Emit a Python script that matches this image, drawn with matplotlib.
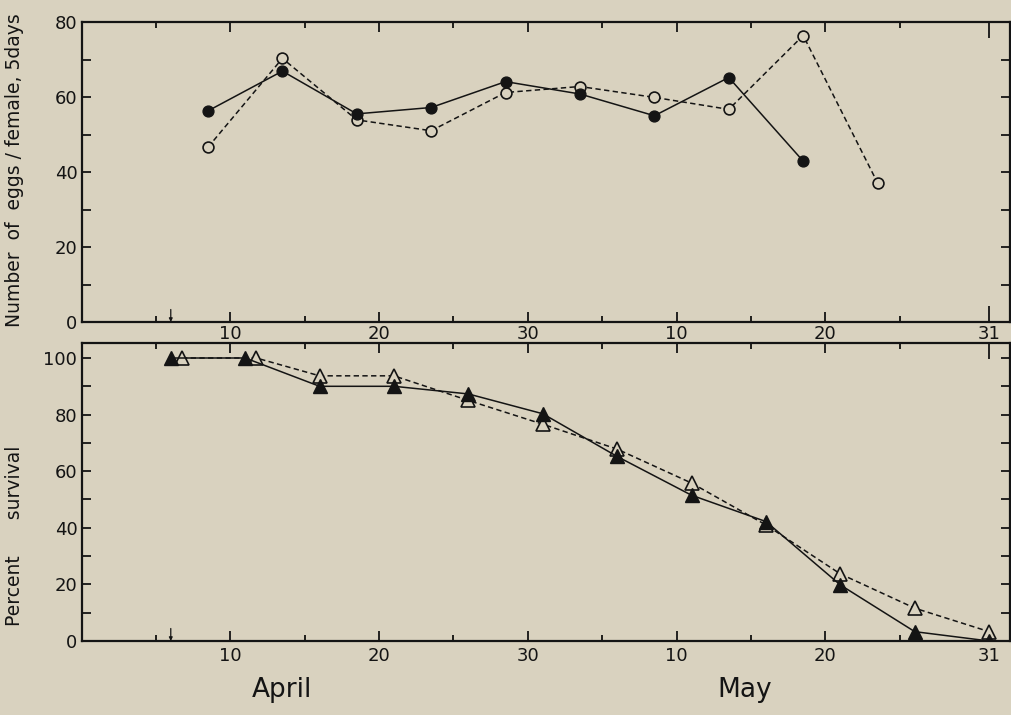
import numpy as np
import matplotlib
matplotlib.use("Agg")
from matplotlib import pyplot as plt

# days counted from 31 March (April 1 = 1, May 1 = 31)
egg_days_closed = [8.5, 13.5, 18.5, 23.5, 28.5, 33.5, 38.5, 43.5, 48.5]
eggs_closed = [56.3, 66.9, 55.5, 57.2, 64.1, 60.8, 55.0, 65.2, 42.9]
egg_days_open = [8.5, 13.5, 18.5, 23.5, 28.5, 33.5, 38.5, 43.5, 48.5, 53.5]
eggs_open = [46.6, 70.3, 53.9, 51.0, 61.2, 62.8, 59.9, 56.7, 76.4, 37.1]

surv_days_closed = [6, 11, 16, 21, 26, 31, 36, 41, 46, 51, 56, 61]
surv_closed = [100, 100, 90, 90, 87.3, 80.3, 65.2, 51.5, 42.2, 19.8, 3.3, 0]
surv_days_open = [6.75, 11.75, 16, 21, 26, 31, 36, 41, 46, 51, 56, 61]
surv_open = [100, 100, 93.7, 93.7, 85.0, 76.6, 67.8, 55.8, 41.0, 23.7, 11.6, 3.3]

major_days = [10, 20, 30, 40, 50, 61]
major_labels = ["10", "20", "30", "10", "20", "31"]
minor_days = [5, 15, 25, 35, 45, 55]
release_day = 6

bg = "#d9d2bf"
ink = "#141414"

plt.rcParams["font.family"] = "DejaVu Sans"

fig = plt.figure(figsize=(10.12, 7.15), dpi=100, facecolor=bg)
W, H = 1012.0, 715.0


def px_axes(left, top, right, bottom):
    return fig.add_axes([left / W, 1 - bottom / H, (right - left) / W, (bottom - top) / H], facecolor=bg)


ax_top = px_axes(81.5, 22, 1010, 322)
ax_bot = px_axes(81.5, 343, 1010, 641)


def style_axis(ax, ymax, ymajor, labelpad):
    ax.set_xlim(0, 62.4)
    ax.set_ylim(0, ymax)
    for s in ax.spines.values():
        s.set_linewidth(1.6)
        s.set_color(ink)
    ax.set_xticks(major_days)
    ax.set_xticklabels(major_labels)
    ax.set_xticks(minor_days, minor=True)
    ax.set_yticks(np.arange(0, ymax + 0.1, ymajor))
    ax.set_yticks(np.arange(10, ymax + 0.1, 10), minor=True)
    ax.tick_params(axis="x", which="major", direction="in", length=7.2, width=1.3,
                   top=True, bottom=True, labelsize=13, pad=labelpad, colors=ink)
    ax.tick_params(axis="x", which="minor", direction="in", length=4.3, width=1.2,
                   top=True, bottom=True)
    ax.tick_params(axis="y", which="both", direction="in", length=6.5, width=1.3,
                   left=True, right=True, labelsize=13, pad=3, colors=ink)
    # the 31st tick is drawn longer
    last = ax.xaxis.get_major_ticks()[-1]
    last.tick1line.set_markersize(11.5)
    last.tick2line.set_markersize(11.5)
    ax.annotate("", xy=(release_day, 0), xycoords="data",
                xytext=(0, 9), textcoords="offset points",
                arrowprops=dict(arrowstyle="-|>", lw=0.9, color=ink,
                                mutation_scale=5, shrinkA=0, shrinkB=0))


style_axis(ax_top, 80, 20, 2)
style_axis(ax_bot, 105.3, 20, 4)

ax_top.plot(egg_days_open, eggs_open, color=ink, lw=1.1, ls=(0, (3.5, 2.2)),
            marker="o", ms=7.8, mfc=bg, mec=ink, mew=1.2, zorder=3)
ax_top.plot(egg_days_closed, eggs_closed, color=ink, lw=1.1, ls="-",
            marker="o", ms=7.8, mfc=ink, mec=ink, zorder=4)

ax_bot.plot(surv_days_open, surv_open, color=ink, lw=1.1, ls=(0, (3.5, 2.2)),
            marker="^", ms=9.5, mfc=bg, mec=ink, mew=1.2, zorder=3)
ax_bot.plot(surv_days_closed, surv_closed, color=ink, lw=1.1, ls="-",
            marker="^", ms=9.5, mfc=ink, mec=ink, zorder=4)

fig.text(15 / W, 1 - 170 / H, "Number  of  eggs / female, 5days", rotation=90,
         ha="center", va="center", fontsize=13.5, color=ink)
fig.text(15 / W, 1 - 536 / H, "Percent      survival", rotation=90,
         ha="center", va="center", fontsize=13.5, color=ink)

fig.text(282 / W, 1 - 690 / H, "April", ha="center", va="center", fontsize=19, color=ink)
fig.text(745 / W, 1 - 690 / H, "May", ha="center", va="center", fontsize=19, color=ink)

fig.savefig("out.png", dpi=100, facecolor=bg)
